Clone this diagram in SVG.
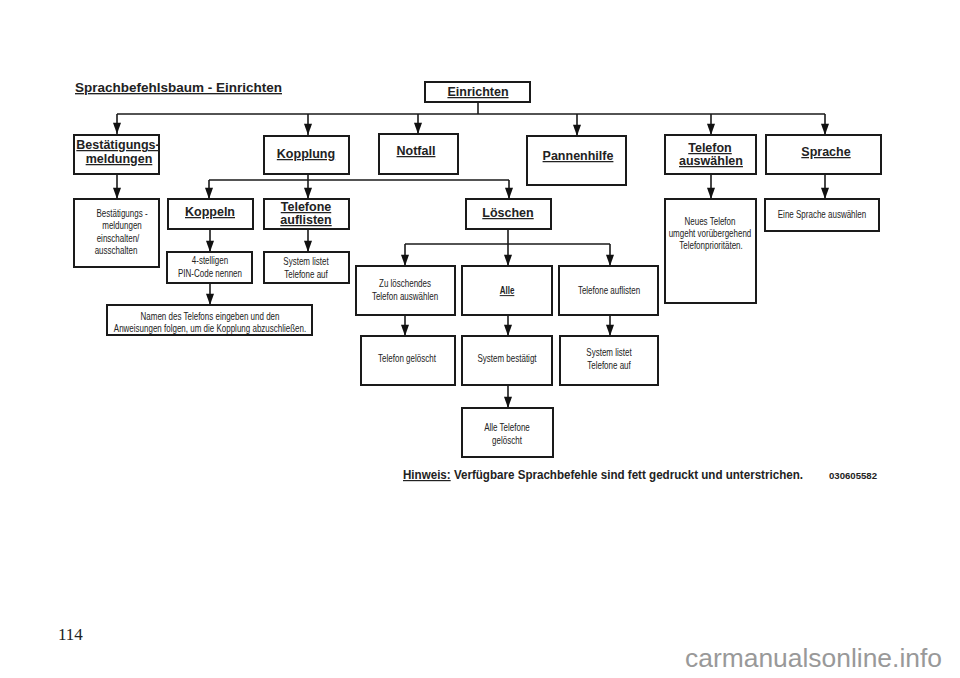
<svg xmlns="http://www.w3.org/2000/svg" width="960" height="678" viewBox="0 0 960 678">
<defs>
<marker id="ah" viewBox="0 0 14 10" refX="14" refY="5" markerWidth="12" markerHeight="8" markerUnits="userSpaceOnUse" orient="auto">
<path d="M0,0 L14,5 L0,10 Z" fill="#111"/>
</marker>
<style>
rect{fill:#fff;stroke:#1a1a1a;stroke-width:2}
.h{font-family:"Liberation Sans",Arial,sans-serif;font-weight:bold;font-size:12.5px;fill:#222;text-anchor:middle;text-decoration:underline}
.s{font-family:"Liberation Sans",Arial,sans-serif;font-size:10px;fill:#222;text-anchor:middle}
.c line{stroke:#1a1a1a;stroke-width:1.6;fill:none}
</style>
</defs>
<rect x="0" y="0" width="960" height="678" style="fill:#fff;stroke:none"/>
<text x="75" y="92" font-family="Liberation Sans, Arial, sans-serif" font-weight="bold" font-size="13.5px" fill="#222" text-decoration="underline" textLength="207" lengthAdjust="spacingAndGlyphs">Sprachbefehlsbaum - Einrichten</text>

<g class="c" id="connectors">
<line x1="478" y1="102" x2="478" y2="114"/>
<line x1="117" y1="114" x2="825" y2="114"/>
<line x1="117" y1="114" x2="117" y2="134" marker-end="url(#ah)"/>
<line x1="308" y1="114" x2="308" y2="135" marker-end="url(#ah)"/>
<line x1="418" y1="114" x2="418" y2="134" marker-end="url(#ah)"/>
<line x1="577" y1="114" x2="577" y2="136" marker-end="url(#ah)"/>
<line x1="711" y1="114" x2="711" y2="135" marker-end="url(#ah)"/>
<line x1="825" y1="114" x2="825" y2="135" marker-end="url(#ah)"/>
<line x1="117" y1="174" x2="117" y2="199" marker-end="url(#ah)"/>
<line x1="308" y1="174" x2="308" y2="180"/>
<line x1="209" y1="180" x2="509" y2="180"/>
<line x1="209" y1="180" x2="209" y2="199" marker-end="url(#ah)"/>
<line x1="308" y1="180" x2="308" y2="199" marker-end="url(#ah)"/>
<line x1="509" y1="180" x2="509" y2="199" marker-end="url(#ah)"/>
<line x1="210" y1="229" x2="210" y2="252" marker-end="url(#ah)"/>
<line x1="308" y1="229" x2="308" y2="252" marker-end="url(#ah)"/>
<line x1="210" y1="283" x2="210" y2="305" marker-end="url(#ah)"/>
<line x1="508" y1="229" x2="508" y2="244"/>
<line x1="405" y1="244" x2="610" y2="244"/>
<line x1="405" y1="244" x2="405" y2="266" marker-end="url(#ah)"/>
<line x1="508" y1="244" x2="508" y2="266" marker-end="url(#ah)"/>
<line x1="610" y1="244" x2="610" y2="266" marker-end="url(#ah)"/>
<line x1="405" y1="315" x2="405" y2="336" marker-end="url(#ah)"/>
<line x1="508" y1="315" x2="508" y2="336" marker-end="url(#ah)"/>
<line x1="610" y1="315" x2="610" y2="336" marker-end="url(#ah)"/>
<line x1="508" y1="385" x2="508" y2="408" marker-end="url(#ah)"/>
<line x1="711" y1="174" x2="711" y2="199" marker-end="url(#ah)"/>
<line x1="825" y1="174" x2="825" y2="199" marker-end="url(#ah)"/>
</g>

<g id="n-einrichten"><rect x="425" y="82" width="105" height="20"/><text class="h" x="478" y="96" font-size="13.5px">Einrichten</text></g>
<g id="n-bestaetigung"><rect x="74" y="135" width="85" height="39"/><text class="h" x="118" y="149" font-size="11.5px">Bestätigungs-</text><text class="h" x="119" y="163" font-size="11.5px">meldungen</text></g>
<g id="n-kopplung"><rect x="264" y="136" width="85" height="38"/><text class="h" x="306" y="158">Kopplung</text></g>
<g id="n-notfall"><rect x="379" y="134" width="79" height="40"/><text class="h" x="416" y="155">Notfall</text></g>
<g id="n-pannenhilfe"><rect x="527" y="136" width="99" height="49"/><text class="h" x="578" y="160">Pannenhilfe</text></g>
<g id="n-telefonwahl"><rect x="665" y="135" width="91" height="39"/><text class="h" x="710" y="152">Telefon</text><text class="h" x="711" y="165">auswählen</text></g>
<g id="n-sprache"><rect x="766" y="135" width="115" height="39"/><text class="h" x="826" y="156">Sprache</text></g>

<g id="n-bestsub"><rect x="74" y="199" width="85" height="68"/>
<text class="s" transform="translate(122,217) scale(.8,1)">Bestätigungs -</text>
<text class="s" transform="translate(122,229) scale(.8,1)">meldungen</text>
<text class="s" transform="translate(118,242) scale(.8,1)">einschalten/</text>
<text class="s" transform="translate(116,254) scale(.8,1)">ausschalten</text></g>
<g id="n-koppeln"><rect x="168" y="199" width="85" height="30"/><text class="h" x="210" y="216">Koppeln</text></g>
<g id="n-telaufl"><rect x="264" y="199" width="85" height="30"/><text class="h" x="306" y="211">Telefone</text><text class="h" x="306" y="224">auflisten</text></g>
<g id="n-loeschen"><rect x="466" y="199" width="85" height="30"/><text class="h" x="508" y="217">Löschen</text></g>
<g id="n-pin"><rect x="167" y="252" width="85" height="31"/><text class="s" transform="translate(210,264) scale(.8,1)">4-stelligen</text><text class="s" transform="translate(210,277) scale(.8,1)">PIN-Code nennen</text></g>
<g id="n-syslist1"><rect x="264" y="252" width="85" height="31"/><text class="s" transform="translate(306,265) scale(.8,1)">System listet</text><text class="s" transform="translate(306,278) scale(.8,1)">Telefone auf</text></g>
<g id="n-namen"><rect x="107" y="305" width="205" height="30"/><text class="s" transform="translate(210,320) scale(.8,1)">Namen des Telefons eingeben und den</text><text class="s" transform="translate(210,332) scale(.8,1)">Anweisungen folgen, um die Kopplung abzuschließen.</text></g>
<g id="n-zuloesch"><rect x="356" y="266" width="99" height="49"/><text class="s" transform="translate(405,287) scale(.8,1)">Zu löschendes</text><text class="s" transform="translate(405,300) scale(.8,1)">Telefon auswählen</text></g>
<g id="n-alle"><rect x="462" y="266" width="90" height="49"/><text class="s" transform="translate(507,294) scale(.8,1)" font-weight="bold" text-decoration="underline">Alle</text></g>
<g id="n-telaufl2"><rect x="559" y="266" width="99" height="49"/><text class="s" transform="translate(609,294) scale(.8,1)">Telefone auflisten</text></g>
<g id="n-telgel"><rect x="361" y="336" width="94" height="49"/><text class="s" transform="translate(407,362) scale(.8,1)">Telefon gelöscht</text></g>
<g id="n-sysbest"><rect x="462" y="336" width="90" height="49"/><text class="s" transform="translate(507,362) scale(.8,1)">System bestätigt</text></g>
<g id="n-syslist2"><rect x="560" y="336" width="98" height="49"/><text class="s" transform="translate(609,356) scale(.8,1)">System listet</text><text class="s" transform="translate(609,369) scale(.8,1)">Telefone auf</text></g>
<g id="n-allegel"><rect x="462" y="408" width="91" height="49"/><text class="s" transform="translate(507,431) scale(.8,1)">Alle Telefone</text><text class="s" transform="translate(507,444) scale(.8,1)">gelöscht</text></g>
<g id="n-neues"><rect x="665" y="199" width="91" height="104"/><text class="s" transform="translate(710,225) scale(.8,1)">Neues Telefon</text><text class="s" transform="translate(710,237) scale(.8,1)">umgeht vorübergehend</text><text class="s" transform="translate(711,249) scale(.8,1)">Telefonprioritäten.</text></g>
<g id="n-einesprache"><rect x="765" y="199" width="114" height="32"/><text class="s" transform="translate(822,218) scale(.8,1)">Eine Sprache auswählen</text></g>

<text x="403" y="479" font-family="Liberation Sans, Arial, sans-serif" font-weight="bold" font-size="12px" fill="#222" textLength="400" lengthAdjust="spacingAndGlyphs"><tspan text-decoration="underline">Hinweis:</tspan> Verfügbare Sprachbefehle sind fett gedruckt und unterstrichen.</text>
<text x="829" y="479" font-family="Liberation Sans, Arial, sans-serif" font-weight="bold" font-size="9px" fill="#222" textLength="48" lengthAdjust="spacingAndGlyphs">030605582</text>
<text x="58" y="640" font-family="Liberation Serif, Times New Roman, serif" font-size="17px" fill="#222">114</text>
<text x="685" y="667" font-family="Liberation Sans, Arial, sans-serif" font-size="25px" fill="#999" textLength="257" lengthAdjust="spacingAndGlyphs">carmanualsonline.info</text>
</svg>
